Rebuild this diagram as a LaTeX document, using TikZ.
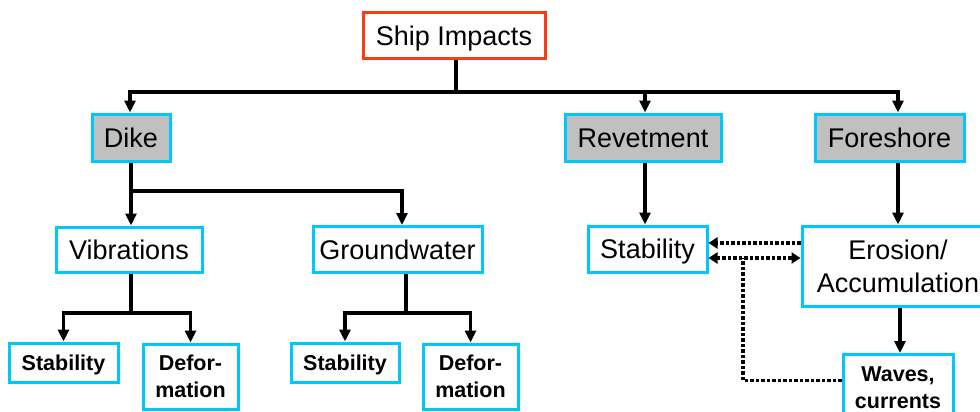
\documentclass[tikz,border=0pt]{standalone}
\usepackage{fontspec}
\setmainfont{Liberation Sans}
\usetikzlibrary{arrows.meta}
\definecolor{boxcyan}{RGB}{0,200,250}
\definecolor{boxred}{RGB}{250,60,20}
\definecolor{boxgray}{RGB}{192,192,192}
\tikzset{
  box/.style={draw=boxcyan, line width=3pt, inner sep=0pt, align=center, font=\fontsize{27}{33}\selectfont},
  bigline/.style={text height=19.5pt, text depth=0pt},
  smallline/.style={text height=15.5pt, text depth=0pt},
  topbox/.style={box, bigline, draw=boxred},
  graybox/.style={box, bigline, fill=boxgray},
  smallbox/.style={box, font=\fontsize{21.5}{27}\selectfont\bfseries},
  conn/.style={line width=3.4pt, -{Triangle[length=12pt,width=11pt]}},
  plain/.style={line width=3.4pt},
  dots/.style={line width=3.4pt, dash pattern=on 3.5pt off 2pt},
  dotarrow/.style={dots, -{Triangle[length=9pt,width=11pt]}},
}
\begin{document}
\begin{tikzpicture}[x=1pt,y=-1pt]
\useasboundingbox (0,0) rectangle (980,412);
\clip (0,0) rectangle (980,412);
% nodes
\node[topbox, minimum width=182pt, minimum height=46pt] (ship) at (454,36) {Ship Impacts};
\node[graybox, minimum width=78pt, minimum height=47pt] (dike) at (131,137.5) {Dike};
\node[graybox, minimum width=156pt, minimum height=47pt] (rev) at (643,137.5) {Revetment};
\node[graybox, minimum width=149pt, minimum height=47pt] (fore) at (889.5,137.5) {Foreshore};
\node[box, bigline, minimum width=146pt, minimum height=45pt] (vib) at (129,249.5) {Vibrations};
\node[box, bigline, minimum width=169pt, minimum height=46pt] (gw) at (397.5,249.5) {Groundwater};
\node[box, bigline, minimum width=119pt, minimum height=46pt] (stab) at (647.5,249) {Stability};
\node[box, minimum width=192pt, minimum height=80pt] (ero) at (898,266) {Erosion/\\Accumulation};
\node[smallbox, minimum width=110pt, minimum height=66pt, anchor=north] (waves) at (898,353) {Waves,\\currents};
\node[smallbox, smallline, minimum width=109pt, minimum height=39pt] (s1) at (63.5,362.5) {Stability};
\node[smallbox, minimum width=95pt, minimum height=65pt] (d1) at (190.5,376.5) {Defor-\\mation};
\node[smallbox, smallline, minimum width=108pt, minimum height=39pt] (s2) at (345,362.5) {Stability};
\node[smallbox, minimum width=95pt, minimum height=65pt] (d2) at (470.5,376.5) {Defor-\\mation};
% junction coordinates
\coordinate (j0) at (456,92);
\coordinate (jd) at (131,191);
\coordinate (jv) at (131,313);
\coordinate (jg) at (406,313);
\coordinate (jw) at (743,258);
% top level
\draw[plain] (ship.south -| j0) -- (j0);
\draw[conn] (j0) -| ([xshift=-1pt]dike.north);
\draw[conn] (j0) -| ([xshift=2pt]rev.north);
\draw[conn] (j0) -| ([xshift=8.5pt]fore.north);
% dike
\draw[conn] (dike.south) -- (vib.north -| dike.south);
\draw[conn] (jd) -| ([xshift=4.5pt]gw.north);
% vibrations
\draw[plain] (vib.south -| jv) -- (jv);
\draw[conn] (jv) -| (s1.north);
\draw[conn] (jv) -| (d1.north);
% groundwater
\draw[plain] (gw.south -| jg) -- (jg);
\draw[conn] (jg) -| (s2.north);
\draw[conn] (jg) -| (d2.north);
% revetment, foreshore
\draw[conn] ([xshift=2pt]rev.south) -- ([xshift=2pt]rev.south |- stab.north);
\draw[conn] ([xshift=8.5pt]fore.south) -- ([xshift=8.5pt]fore.south |- ero.north);
\draw[conn] ([xshift=2pt]ero.south) -- ([xshift=2pt]ero.south |- waves.north);
% dotted relations
\draw[dotarrow] ([yshift=23pt]ero.west) -- ([yshift=23pt]ero.west -| stab.east);
\draw[dots, {Triangle[length=9pt,width=11pt]}-{Triangle[length=9pt,width=11pt]}] ([yshift=-9pt]stab.east) -- ([yshift=-9pt]stab.east -| ero.west);
\draw[dots] ([yshift=7pt]waves.west) -| (jw);
\end{tikzpicture}
\end{document}
